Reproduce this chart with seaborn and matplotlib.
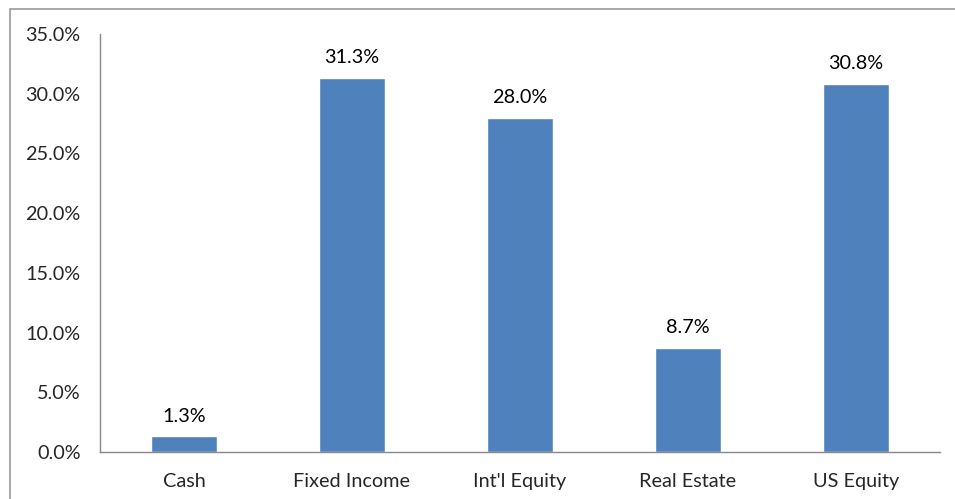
import matplotlib
matplotlib.use("Agg")
import matplotlib.pyplot as plt
import seaborn as sns
import pandas as pd
from matplotlib.ticker import FuncFormatter, FixedLocator
from matplotlib.patches import Rectangle

# data
categories = ["Cash", "Fixed Income", "Int'l Equity", "Real Estate", "US Equity"]
weights = [1.3, 31.3, 28.0, 8.7, 30.8]

df = pd.DataFrame({"Asset": categories, "Weight": weights})

sns.set_style("white")
plt.rcParams['font.family'] = ['Lato', 'DejaVu Sans']

fig = plt.figure(figsize=(9.55, 4.99), dpi=100)
ax = fig.add_axes([0.1047, 0.0942, 0.8796, 0.8377])

sns.barplot(data=df, x="Asset", y="Weight", color="#4F81BD", width=0.39,
            saturation=1, ax=ax)

for i, v in enumerate(weights):
    ax.text(i, v + 1.0, f"{v:.1f}%", ha="center", va="bottom", fontsize=14.3, color="#000000")

ax.set_ylim(0, 35)
ax.set_xlim(-0.5, len(categories) - 0.5)
ax.set_yticks([0, 5, 10, 15, 20, 25, 30, 35])
ax.yaxis.set_major_formatter(FuncFormatter(lambda y, _: f"{y:.1f}%"))
ax.xaxis.set_minor_locator(FixedLocator([i + 0.5 for i in range(-1, len(categories))]))
ax.tick_params(axis="x", which="major", length=0, pad=15, labelsize=14.3)
ax.tick_params(axis="x", which="minor", length=5, color="#888888", width=1, direction="out")
ax.tick_params(axis="y", length=5, color="#888888", width=1, direction="out", pad=9, labelsize=14.3)
ax.set_xlabel("")
ax.set_ylabel("")

for s in ["top", "right"]:
    ax.spines[s].set_visible(False)
for s in ["left", "bottom"]:
    ax.spines[s].set_color("#888888")
    ax.spines[s].set_linewidth(1)

# chart area border (cut off at right/bottom in the reference)
fig.patches.append(Rectangle((10 / 955, -0.05), 1.1, (499 - 9) / 499 + 0.05,
                             transform=fig.transFigure, fill=False,
                             edgecolor="#999999", linewidth=1.2))

fig.savefig("out.png", dpi=100)
